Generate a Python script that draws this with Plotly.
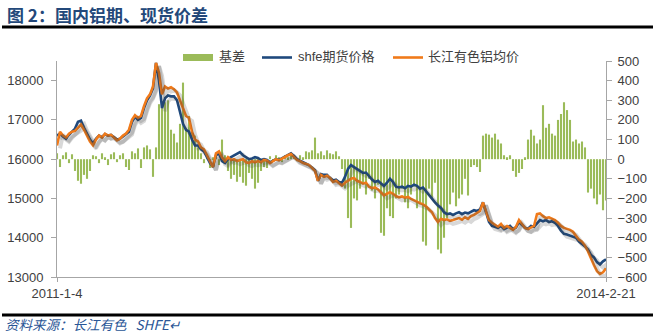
import pandas as pd
import plotly.graph_objects as go

# ---- data: weekly samples, 2011-1-4 .. 2014-2-21 ----
start_date = "2011-01-04"
end_date = "2014-02-21"
n_points = 184

# 长江有色铝均价 (spot, CNY/t)
spot = [
    16350, 16700, 16600, 16550, 16650, 16700, 16720, 16800, 16880, 16750,
    16600, 16450, 16350, 16500, 16600, 16550, 16650, 16600, 16620, 16550,
    16480, 16520, 16600, 16650, 16750, 17000, 17120, 17050, 17100, 17350,
    17550, 17650, 17850, 18450, 18200, 17650, 17850, 17800, 17830, 17780,
    17700, 17500, 17300, 17100, 17050, 16700, 16500, 16450, 16300, 16250,
    16100, 15950, 15800, 16150, 16200, 16050, 15950, 16050, 15980, 16000,
    15950, 15980, 16000, 15920, 15900, 15950, 15920, 15950, 15920, 15980,
    15960, 15900, 15950, 16000, 15970, 16020, 16060, 16100, 16130, 16050,
    15980, 15950, 15900, 15880, 15850, 15780, 15700, 15450, 15600, 15550,
    15580, 15520, 15420, 15450, 15380, 15330, 15400, 15450, 15500, 15520,
    15450, 15420, 15380, 15400, 15300, 15260, 15280, 15230, 15150, 15080,
    15120, 15160, 15120, 15060, 15030, 15050, 15020, 15040, 14990, 14950,
    14900, 14880, 14850, 14800, 14720, 14650, 14500, 14400, 14480, 14450,
    14470, 14430, 14450, 14480, 14500, 14460, 14520, 14480, 14550, 14580,
    14620, 14680, 14900, 14700, 14450, 14380, 14320, 14280, 14350, 14250,
    14300, 14250, 14200, 14280, 14450, 14350, 14250, 14220, 14260, 14300,
    14600, 14620, 14550, 14500, 14520, 14480, 14450, 14380, 14300, 14250,
    14230, 14200, 14150, 14050, 13950, 13900, 13800, 13650, 13450, 13300,
    13150, 13080, 13120, 13220,
]

# shfe期货价格 (futures, CNY/t)
futures = [
    16600, 16650, 16580, 16520, 16620, 16700,
    16780, 16950, 16980, 16800, 16650,
    16500, 16400, 16520, 16600, 16560,
    16640, 16600, 16620, 16560, 16500,
    16520, 16580, 16620, 16700,
    16950, 17080, 17000, 17050,
    17300, 17500, 17620, 17800,
    18450, 18000,
    17300, 17550, 17620, 17600, 17600, 17500,
    17200, 16900, 16750, 16700,
    16500, 16350, 16350, 16250, 16200,
    16050, 15900, 15800, 16100, 16150,
    15950, 15900, 16000, 16050, 16100,
    16150, 16180, 16100, 16050, 16000,
    16020, 16050, 16030, 15980, 16000,
    15980, 15920, 15960, 16000, 15980,
    16020, 16060, 16100, 16150, 16080,
    16000, 15960, 15920, 15880, 15850,
    15780, 15720, 15450, 15620, 15600,
    15600, 15520, 15460, 15480, 15420,
    15400, 15550, 15750, 15850, 15800,
    15750, 15680, 15650, 15660, 15560,
    15480, 15420, 15450, 15380, 15320,
    15400, 15500, 15420, 15300, 15280,
    15300, 15260, 15320, 15300, 15350,
    15320, 15250, 15280, 15180, 15100,
    15000, 14900, 14820, 14760, 14650,
    14600, 14620, 14580, 14620, 14650,
    14600, 14640, 14620, 14650, 14700,
    14680, 14720, 14900, 14650, 14400,
    14300, 14280, 14250, 14300, 14220,
    14260, 14300, 14220, 14260, 14400,
    14320, 14250, 14230, 14300, 14280,
    14380, 14450, 14420, 14450, 14400,
    14420, 14380, 14300, 14180, 14100,
    14080, 14050, 14020, 14000, 13900,
    13850, 13780, 13700, 13560, 13500,
    13380, 13320, 13400, 13450,
]

# 基差 (spot - futures, CNY/t)
basis = [
    30, -40, 20, 35, -20, 25, -60, -110, -125, -80, -100, -60, 20,
    15, -20, 30, 10, -30, 25, 35, -15, 20, 30, -40, -55,
    40, 30, 55, -45, 60, 70, 50,
    -90, 60, 280,
    260, 290, 300, 150, 130, 85, 180, 390, 160, 220, 150, 120,
    60, 30, -20, 25, -45, 10, 20, -30, 100,
    20, -60, -100, -80, -115, -90, -120, -135, -70, -100, -150, -120, -60, -40,
    -45, 15, -10, 20, 10, -15, 20, 10, 25, 15, -10, 20, 10, 40,
    35, 45, 110, 30, 40, 20, 45, 30,
    25, 40, 15, -50, -150, -300,
    -350, -200, -210, -150, -120, -180, -100, -160, -200, -130,
    -375, -390, -250, -290, -300, -200, -180,
    -150, -220, -250, -180, -140, -250, -230, -420,
    -440, -150, -200, -120, -460, -480, -400, -300,
    -230, -170, -240, -200, -180, -100, -185,
    -40, -30, -40, -65,
    120, 130, 125, 110, 130, 100, 80, 20,
    10, 20, -60, -90, -70, -50, 10, 100,
    150, 120, 80, 100, 275, 160,
    180, 130, 120, 200, 230, 290, 250, 200, 90,
    100, 80, 90, 60, -170,
    -150, -200, -230, -180, -260, -210,
]

price_ticks = [13000, 14000, 15000, 16000, 17000, 18000]
basis_ticks = list(range(-600, 501, 100))
x_tick_text = ["2011-1-4", "2014-2-21"]

dates = pd.date_range(start_date, end_date, periods=n_points)
df = pd.DataFrame({"date": dates, "spot": spot, "futures": futures, "basis": basis})

# ---- geometry / styling ----
W, H = 654, 334
L, R, T, B = 57, 48, 61, 57
PW, PH = W - L - R, H - T - B

GREEN = "#9BBB59"
BLUE = "#1F497D"
ORANGE = "#F07A1A"
AXIS = "#A6A6A6"
TXT = "#404040"
FONT = "Liberation Sans, Arial, Noto Sans CJK SC, sans-serif"
CJK = "Noto Sans CJK SC, sans-serif"


def px_x(p):
    return (p - L) / PW


def px_y(p):
    return (H - B - p) / PH


t0, t1 = pd.Timestamp(start_date), pd.Timestamp(end_date)
span = t1 - t0
p_lo, p_hi = 13000, 18500
# drop shadow offset (pixels, right / down) expressed in axis units
sx, sy = 3, 3
sh_dx = span * sx / PW
sh_dy = (p_hi - p_lo) * sy / PH

fig = go.Figure()

fig.add_trace(go.Bar(
    x=df["date"], y=df["basis"], name="基差",
    marker=dict(color=GREEN, line=dict(width=0)),
    xaxis="x", yaxis="y", showlegend=False,
))

for col in ["futures", "spot"]:
    fig.add_trace(go.Scatter(
        x=df["date"], y=df[col], mode="lines",
        line=dict(color="rgba(60,60,60,0.2)", width=4),
        xaxis="x2", yaxis="y3", showlegend=False, hoverinfo="skip",
    ))

fig.add_trace(go.Scatter(
    x=df["date"], y=df["futures"], mode="lines", name="shfe期货价格",
    line=dict(color=BLUE, width=2.6), xaxis="x", yaxis="y2", showlegend=False,
))
fig.add_trace(go.Scatter(
    x=df["date"], y=df["spot"], mode="lines", name="长江有色铝均价",
    line=dict(color=ORANGE, width=2.6), xaxis="x", yaxis="y2", showlegend=False,
))

axis_common = dict(
    showline=True, linecolor=AXIS, linewidth=1, ticks="outside",
    tickcolor=AXIS, ticklen=5, showgrid=False, zeroline=False,
    automargin=False,
    tickfont=dict(family=FONT, size=13, color=TXT),
)

fig.update_layout(
    width=W, height=H,
    margin=dict(l=L, r=R, t=T, b=B),
    paper_bgcolor="white", plot_bgcolor="white",
    bargap=0.3,
    xaxis=dict(
        type="date", range=[t0, t1],
        tickvals=[t0, t1], ticktext=x_tick_text, ticklen=4,
        **{k: v for k, v in axis_common.items() if k != "ticklen"},
    ),
    xaxis2=dict(
        type="date", overlaying="x", range=[t0 - sh_dx, t1 - sh_dx],
        visible=False,
    ),
    yaxis=dict(
        side="right", range=[-600, 500], tickvals=basis_ticks,
        tickformat="d", ticklabelstandoff=3, **axis_common,
    ),
    yaxis2=dict(
        side="left", overlaying="y", range=[p_lo, p_hi], tickvals=price_ticks,
        tickformat="d", ticklabelstandoff=5, **axis_common,
    ),
    yaxis3=dict(
        overlaying="y", range=[p_lo + sh_dy, p_hi + sh_dy], visible=False,
    ),
    showlegend=False,
)

# title bar
fig.add_annotation(
    xref="paper", yref="paper", x=px_x(5), y=px_y(14),
    xanchor="left", yanchor="middle", showarrow=False,
    text="<b>图 2：国内铝期、现货价差</b>",
    font=dict(family=CJK, size=17, color="#23487A"),
)
fig.add_shape(type="line", xref="paper", yref="paper",
              x0=px_x(2), x1=px_x(W - 1), y0=px_y(27), y1=px_y(27),
              line=dict(color="black", width=3))
fig.add_shape(type="line", xref="paper", yref="paper",
              x0=px_x(2), x1=px_x(W - 1), y0=px_y(315), y1=px_y(315),
              line=dict(color="black", width=3))

# source line
fig.add_annotation(
    xref="paper", yref="paper", x=px_x(3), y=px_y(324),
    xanchor="left", yanchor="middle", showarrow=False,
    text="<i>资料来源：长江有色\u00a0\u00a0\u00a0SHFE↵</i>",
    font=dict(family=CJK, size=13.5, color="#2A5696"),
)

# legend
fig.add_shape(type="rect", xref="paper", yref="paper",
              x0=px_x(183), x1=px_x(213), y0=px_y(61), y1=px_y(54),
              fillcolor=GREEN, line=dict(width=0))
fig.add_shape(type="line", xref="paper", yref="paper",
              x0=px_x(262), x1=px_x(292), y0=px_y(57.5), y1=px_y(57.5),
              line=dict(color=BLUE, width=2.6))
fig.add_shape(type="line", xref="paper", yref="paper",
              x0=px_x(393), x1=px_x(423), y0=px_y(57.5), y1=px_y(57.5),
              line=dict(color=ORANGE, width=2.6))
for label, left in [("基差", 217), ("shfe期货价格", 296), ("长江有色铝均价", 426)]:
    fig.add_annotation(
        xref="paper", yref="paper", x=px_x(left), y=px_y(57),
        xanchor="left", yanchor="middle", showarrow=False,
        text=label, font=dict(family=FONT, size=13, color=TXT),
    )

fig.write_html("out.html")
